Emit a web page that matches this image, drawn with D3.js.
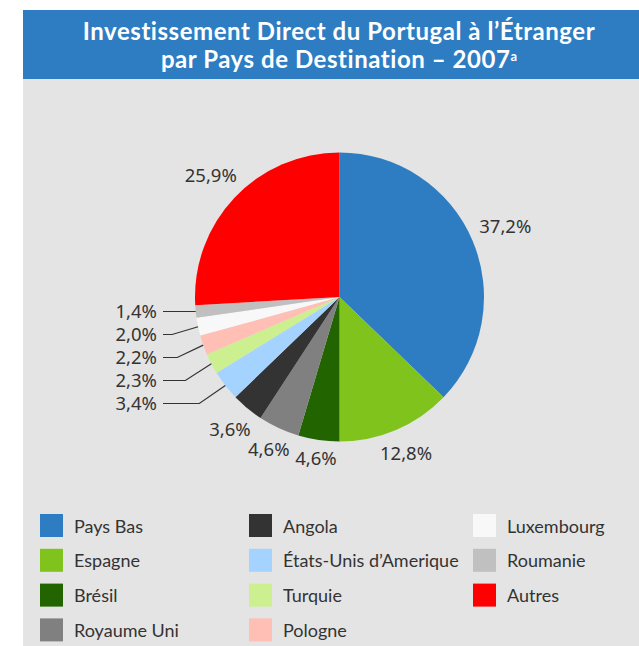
<!DOCTYPE html>
<html>
<head>
<meta charset="utf-8">
<script src="https://cdn.jsdelivr.net/npm/d3@7"></script>
<style>
  html, body { margin: 0; padding: 0; background: #fff; }
  svg { display: block; }
</style>
</head>
<body>
<div id="chart"></div>
<script>
// Data
const countries = ['Pays Bas', 'Espagne', 'Brésil', 'Royaume Uni', 'Angola',
  'États-Unis d\u2019Amerique', 'Turquie', 'Pologne', 'Luxembourg', 'Roumanie', 'Autres']
const shares = [37.2, 12.8, 4.6, 4.6, 3.6, 3.4, 2.3, 2.2, 2.0, 1.4, 25.9]
const colors = ['#2e7dc2', '#80c31c', '#226400', '#808080', '#333333',
  '#a5d3ff', '#ccef8f', '#ffbfb5', '#f8f8f8', '#c0c0c0', '#ff0000']
const titleLines = ['Investissement Direct du Portugal à l\u2019Étranger', 'par Pays de Destination \u2013 2007']
const titleNote = 'a'

function draw() {
  // Dimensions
  const dimensions = {
    width: 639,
    height: 646,
    panelLeft: 23,
    barTop: 10,
    barBottom: 79,
    cx: 339.5,
    cy: 297,
    radius: 144.5
  }

  const svg = d3.select('#chart')
    .append('svg')
    .attr('width', dimensions.width)
    .attr('height', dimensions.height)

  // Background panel + title bar
  svg.append('rect')
    .attr('x', dimensions.panelLeft)
    .attr('y', dimensions.barTop)
    .attr('width', dimensions.width - dimensions.panelLeft)
    .attr('height', dimensions.height - dimensions.barTop)
    .attr('fill', '#e4e4e4')

  svg.append('rect')
    .attr('x', dimensions.panelLeft)
    .attr('y', dimensions.barTop)
    .attr('width', dimensions.width - dimensions.panelLeft)
    .attr('height', dimensions.barBottom - dimensions.barTop)
    .attr('fill', '#2e7dc2')

  const title = svg.append('text')
    .attr('text-anchor', 'middle')
    .attr('fill', '#fff')
    .style('font-family', 'Lato, sans-serif')
    .style('font-weight', 'bold')
    .style('font-size', '24px')
    .style('letter-spacing', '0.55px')

  titleLines.forEach((line, i) => {
    title.append('tspan')
      .attr('x', 339)
      .attr('y', 40 + i * 28)
      .text(line)
    if (i === titleLines.length - 1) {
      title.append('tspan')
        .attr('dy', -7)
        .style('font-size', '13px')
        .style('letter-spacing', '0')
        .text(titleNote)
    }
  })

  // Pie
  const pie = d3.pie().sort(null).value(d => d)
  const arcs = pie(shares)

  const arc = d3.arc().innerRadius(0).outerRadius(dimensions.radius)
  const edgeArc = d3.arc().innerRadius(dimensions.radius).outerRadius(dimensions.radius)

  const ctr = svg.append('g')
    .attr('transform', `translate(${dimensions.cx}, ${dimensions.cy})`)

  ctr.selectAll('path.slice')
    .data(arcs)
    .join('path')
    .attr('class', 'slice')
    .attr('d', arc)
    .attr('fill', (d, i) => colors[i])

  const fmt = v => d3.format('.1f')(v).replace('.', ',') + '%'
  const labelStyle = sel => sel
    .attr('fill', '#333')
    .style('font-family', '"Noto Sans", sans-serif')
    .style('font-size', '18.5px')

  // small slices on the left get leader lines
  const small = arcs.filter(d => d.value < 3.5 && (d.startAngle + d.endAngle) / 2 > Math.PI)
  const big = arcs.filter(d => !small.includes(d))

  // outside labels: text box kept a fixed gap away from the rim
  const gap = 9
  const halfDigit = 6.8
  ctr.selectAll('text.big')
    .data(big)
    .join('text')
    .attr('class', 'big')
    .call(labelStyle)
    .attr('text-anchor', 'middle')
    .attr('dy', '0.36em')
    .text(d => fmt(d.value))
    .attr('transform', function (d) {
      const a = (d.startAngle + d.endAngle) / 2
      const ux = Math.sin(a)
      const uy = -Math.cos(a)
      const hw = this.getComputedTextLength() / 2
      const dist = dimensions.radius + gap + hw * Math.abs(ux) + halfDigit * Math.abs(uy)
      return `translate(${ux * dist}, ${uy * dist})`
    })

  // leader label layout: from top to bottom, min spacing
  const leaders = small
    .map(d => ({ d, edge: edgeArc.centroid(d) }))
    .sort((a, b) => a.edge[1] - b.edge[1])
  let lastY = -Infinity
  leaders.forEach(l => {
    l.y = Math.max(l.edge[1], lastY + 23)
    lastY = l.y
  })

  const lineStart = 163 - dimensions.cx

  ctr.selectAll('polyline.leader')
    .data(leaders)
    .join('polyline')
    .attr('class', 'leader')
    .attr('fill', 'none')
    .attr('stroke', '#333')
    .attr('stroke-width', 1.2)
    .attr('points', l => {
      const [ex, ey] = l.edge
      if (Math.abs(l.y - ey) < 2) return [[lineStart, ey], [ex, ey]].join(' ')
      const elbow = Math.max(lineStart, ex - 26)
      return [[lineStart, l.y], [elbow, l.y], [ex, ey]].join(' ')
    })

  ctr.selectAll('text.leader')
    .data(leaders)
    .join('text')
    .attr('class', 'leader')
    .call(labelStyle)
    .attr('text-anchor', 'end')
    .attr('dy', '0.34em')
    .attr('x', lineStart - 6)
    .attr('y', l => l.y)
    .text(l => fmt(l.d.value))

  // Legend
  const legendCols = [40, 249, 473]
  const rowsPerCol = 4
  const legend = svg.append('g')
    .selectAll('g')
    .data(countries)
    .join('g')
    .attr('transform', (d, i) =>
      `translate(${legendCols[Math.floor(i / rowsPerCol)]}, ${514 + (i % rowsPerCol) * 34.8})`)

  legend.append('rect')
    .attr('width', 23)
    .attr('height', 23)
    .attr('fill', (d, i) => colors[i])

  legend.append('text')
    .attr('x', 34)
    .attr('y', 18.5)
    .attr('fill', '#333')
    .style('font-family', 'Lato, sans-serif')
    .style('font-size', '18px')
    .text(d => d)
}

draw()
</script>
</body>
</html>
